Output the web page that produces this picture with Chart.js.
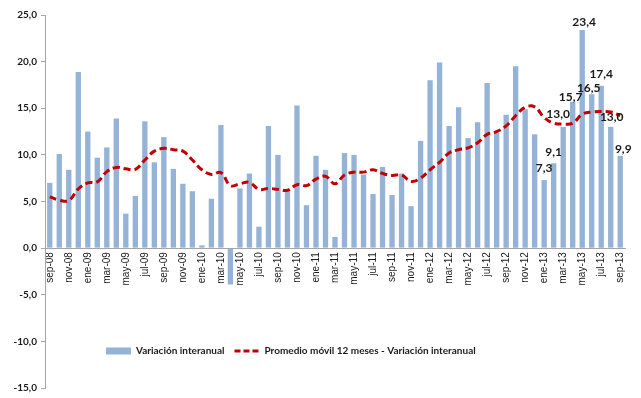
<!DOCTYPE html>
<html>
<head>
<meta charset="utf-8">
<script src="https://cdn.jsdelivr.net/npm/chart.js@4/dist/chart.umd.min.js"></script>
<style>
	html, body { margin: 0; padding: 0; background: #fff; }
	#wrap { width: 641px; height: 398px; }
</style>
</head>
<body>
<div id="wrap"><canvas id="chart"></canvas></div>
<script>
////////////
//// Data

let MONTHS = [
	'sep-08', 'oct-08', 'nov-08', 'dic-08',
	'ene-09', 'feb-09', 'mar-09', 'abr-09', 'may-09', 'jun-09', 'jul-09', 'ago-09', 'sep-09', 'oct-09', 'nov-09', 'dic-09',
	'ene-10', 'feb-10', 'mar-10', 'abr-10', 'may-10', 'jun-10', 'jul-10', 'ago-10', 'sep-10', 'oct-10', 'nov-10', 'dic-10',
	'ene-11', 'feb-11', 'mar-11', 'abr-11', 'may-11', 'jun-11', 'jul-11', 'ago-11', 'sep-11', 'oct-11', 'nov-11', 'dic-11',
	'ene-12', 'feb-12', 'mar-12', 'abr-12', 'may-12', 'jun-12', 'jul-12', 'ago-12', 'sep-12', 'oct-12', 'nov-12', 'dic-12',
	'ene-13', 'feb-13', 'mar-13', 'abr-13', 'may-13', 'jun-13', 'jul-13', 'ago-13', 'sep-13'
];

// variación interanual (%)
let VARIACION = [
	7.0, 10.1, 8.4, 18.9,
	12.5, 9.7, 10.8, 13.9, 3.7, 5.6, 13.6, 9.2, 11.9, 8.5, 6.9, 6.1,
	0.3, 5.3, 13.2, -3.9, 6.4, 8.0, 2.3, 13.1, 10.0, 6.1, 15.3, 4.6,
	9.9, 8.4, 1.2, 10.2, 10.0, 7.9, 5.8, 8.7, 5.7, 8.0, 4.5, 11.5,
	18.0, 19.9, 13.1, 15.1, 11.8, 13.5, 17.7, 12.4, 14.3, 19.5, 14.9, 12.2,
	7.3, 9.1, 13.0, 15.7, 23.4, 16.5, 17.4, 13.0, 9.9
];

// promedio móvil 12 meses
let PROMEDIO = [
	5.5, 5.15, 5.1, 6.35,
	7.0, 7.1, 8.2, 8.65, 8.5, 8.45, 9.45, 10.4, 10.7, 10.55, 10.4, 9.45,
	8.4, 7.9, 8.1, 6.7, 6.9, 7.05, 6.3, 6.4, 6.3, 6.2, 6.8, 6.7,
	7.4, 7.7, 6.9, 7.85, 8.15, 8.15, 8.4, 8.0, 7.8, 7.85, 7.15, 7.5,
	8.4, 9.2, 10.2, 10.55, 10.75, 11.3, 12.2, 12.5, 13.1, 14.2, 15.1, 15.15,
	14.0, 13.4, 13.3, 13.4, 14.35, 14.6, 14.65, 14.6, 14.2
];

let Y_TICKS = [-15, -10, -5, 0, 5, 10, 15, 20, 25];

// last months get their value written above the bar
let LABEL_FROM = 52;
// hand placement of those labels (dx, dy from the bar top)
let LABEL_NUDGE = [[0, -12], [0, -11.5], [-5, -13], [-2, -5], [2, -8], [-3, -6], [0, -12], [1, -9.5], [3, -7]];

////////////
//// Helpers

function fmt(v) {
	return v.toFixed(1).replace('.', ',');
}

// writes the values over the last bars
let barValues = {
	id: 'barValues',
	afterDatasetsDraw(chart) {
		let ctx = chart.ctx;
		let meta = chart.getDatasetMeta(0);
		ctx.save();
		ctx.font = 'bold 12px Lato';
		ctx.fillStyle = '#1a1a1a';
		ctx.textAlign = 'center';
		ctx.textBaseline = 'middle';
		for (let i = LABEL_FROM; i < VARIACION.length; ++i) {
			let bar = meta.data[i];
			let n = LABEL_NUDGE[i - LABEL_FROM];
			ctx.fillText(fmt(VARIACION[i]), bar.x + n[0], bar.y + n[1]);
		}
		ctx.restore();
	}
};

// the legend sits inside the plot, under the zero line
let legendPlace = {
	id: 'legendPlace',
	afterLayout(chart) {
		let lg = chart.legend;
		let w = lg.width, h = lg.height;
		lg.left = 96;
		lg.right = 96 + w;
		lg.top = 336;
		lg.bottom = 336 + h;
	}
};

////////////
//// Chart

let ctx = document.getElementById('chart').getContext('2d');

let chart = new Chart(ctx, {
	type: 'bar',
	data: {
		labels: MONTHS,
		datasets: [{
			type: 'bar',
			label: 'Variación interanual',
			data: VARIACION,
			backgroundColor: '#95b3d7',
			borderWidth: 0,
			barPercentage: 0.56,
			categoryPercentage: 1.0,
			order: 1
		}, {
			type: 'line',
			label: 'Promedio móvil 12 meses - Variación interanual',
			data: PROMEDIO,
			borderColor: '#c00000',
			backgroundColor: '#c00000',
			borderWidth: 3,
			borderDash: [7, 4],
			tension: 0.4,
			pointRadius: 0,
			fill: false,
			order: 0
		}]
	},
	options: {
		responsive: true,
		maintainAspectRatio: false,
		animation: false,
		layout: {
			padding: { top: 15, right: 16, bottom: 3, left: 0 }
		},
		plugins: {
			tooltip: { enabled: false },
			legend: {
				position: 'bottom',
				align: 'start',
				labels: {
					usePointStyle: true,
					pointStyleWidth: 25,
					boxHeight: 7,
					padding: 10,
					color: '#1a1a1a',
					font: { family: 'Lato', weight: 'bold', size: 10 },
					sort: (a, b) => a.datasetIndex - b.datasetIndex,
					generateLabels(chart) {
						let items = Chart.defaults.plugins.legend.labels.generateLabels(chart);
						items.forEach(it => {
							if (it.datasetIndex === 0) {
								it.pointStyle = 'rect';
								it.lineWidth = 0;
							} else {
								it.pointStyle = 'line';
								it.lineWidth = 3;
								it.lineDash = [6, 3];
							}
						});
						return items;
					}
				}
			}
		},
		scales: {
			x: {
				position: { y: 0 },
				grid: { display: false, drawTicks: false },
				border: { display: true, color: '#a6a6a6', width: 1 },
				ticks: {
					autoSkip: false,
					minRotation: 90,
					maxRotation: 90,
					padding: 4,
					color: '#1a1a1a',
					font: { family: 'Liberation Sans', size: 10 },
					callback: (v, i) => (i % 2 === 0 ? MONTHS[i] : '')
				}
			},
			y: {
				min: -15,
				max: 25,
				afterFit(scale) { scale.width = 45; },
				afterBuildTicks(scale) { scale.ticks = Y_TICKS.map(v => ({ value: v })); },
				grid: { drawOnChartArea: false, drawTicks: true, tickLength: 4, color: '#a6a6a6' },
				border: { display: true, color: '#a6a6a6', width: 1 },
				ticks: {
					padding: 4,
					color: '#1a1a1a',
					font: { family: 'Lato', weight: 'bold', size: 10 },
					callback: v => fmt(v)
				}
			}
		}
	},
	plugins: [barValues, legendPlace]
});

// the legend is moved up into the plot, so give its strip back to the chart area
chart.options.layout.padding.bottom = 3 - chart.legend.height;
chart.update();
</script>
</body>
</html>
